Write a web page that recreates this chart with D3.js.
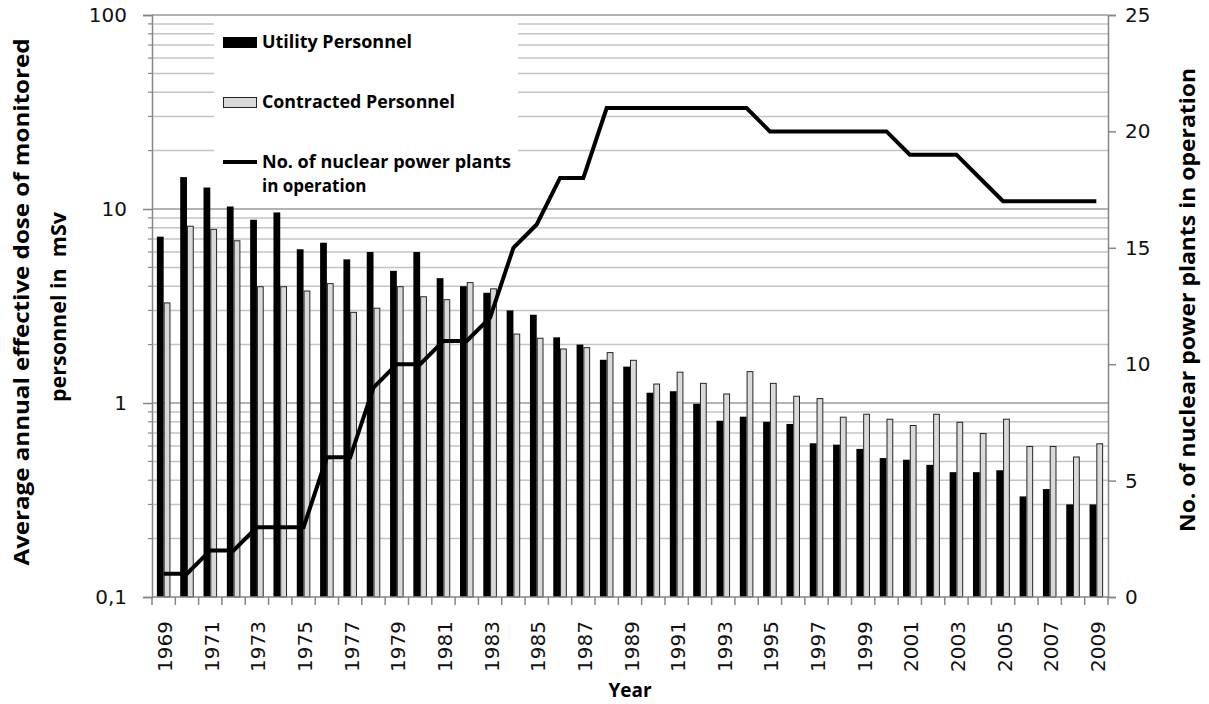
<!DOCTYPE html>
<html><head><meta charset="utf-8">
<script src="https://cdn.jsdelivr.net/npm/d3@7"></script>
<style>
html,body{margin:0;padding:0;background:#fff;}
svg{display:block;}
</style></head>
<body>
<svg id="chart" width="1209" height="704"></svg>
<script>
const years = d3.range(1969, 2010);
const utilityDose = [7.2,14.6,12.9,10.3,8.8,9.6,6.2,6.7,5.5,6.0,4.8,6.0,4.4,4.0,3.7,3.0,2.85,2.18,2.0,1.67,1.54,1.13,1.15,0.99,0.81,0.85,0.80,0.78,0.62,0.61,0.58,0.52,0.51,0.48,0.44,0.44,0.45,0.33,0.36,0.30,0.30];
const contractedDose = [3.3,8.2,7.9,6.9,4.0,4.0,3.8,4.15,2.95,3.1,4.0,3.55,3.43,4.2,3.9,2.28,2.17,1.91,1.94,1.83,1.67,1.26,1.45,1.27,1.12,1.46,1.27,1.09,1.06,0.85,0.88,0.83,0.77,0.88,0.80,0.70,0.83,0.60,0.60,0.53,0.62];
const plants = [1,1,2,2,3,3,3,6,6,9,10,10,11,11,12,15,16,18,18,21,21,21,21,21,21,21,20,20,20,20,20,20,19,19,19,18,17,17,17,17,17];
const leftTicks = [0.1, 1, 10, 100];
const rightTicks = [0, 5, 10, 15, 20, 25];
const seriesNames = ["Utility Personnel", "Contracted Personnel", "No. of nuclear power plants in operation"];

const svg = d3.select("#chart");
const L = 152, R = 1108, T = 15, B = 597;
const axisColor = "#868686";
const tickFont = "'DejaVu Sans', Verdana, sans-serif";
const titleFont = "'Open Sans', Lato, sans-serif";

const x = d3.scaleBand().domain(years).range([L, R]).paddingInner(0).paddingOuter(0);
const xs = d3.scaleBand().domain(["u","c"]).range([0, x.bandwidth()]).paddingInner(0).paddingOuter(0.72);
const yL = d3.scaleLog().domain([0.1, 100]).range([B, T]);
const yR = d3.scaleLinear().domain([0, 25]).range([B, T]);

// gridlines
const gridVals = [];
[0.1, 1, 10].forEach(d => { for (let k = 1; k <= 9; k++) gridVals.push(+(d*k).toPrecision(3)); });
gridVals.push(100);
const gridG = svg.append("g");
gridG.selectAll("line").data(gridVals.filter(v => v > 0.1)).join("line")
  .attr("x1", L).attr("x2", R)
  .attr("y1", d => yL(d)).attr("y2", d => yL(d))
  .attr("stroke", d => (d === 1 || d === 10 || d === 100) ? "#9a9a9a" : "#c4c4c4")
  .attr("stroke-width", 1.5);

// bars
const barG = svg.append("g");
barG.selectAll("rect.u").data(years).join("rect").attr("class","u")
  .attr("x", (d) => x(d) + xs("u"))
  .attr("y", (d,i) => yL(utilityDose[i]))
  .attr("width", xs.bandwidth())
  .attr("height", (d,i) => B - yL(utilityDose[i]))
  .attr("fill", "#000");
barG.selectAll("rect.c").data(years).join("rect").attr("class","c")
  .attr("x", (d) => x(d) + xs("c") + 0.5)
  .attr("y", (d,i) => yL(contractedDose[i]) + 0.5)
  .attr("width", xs.bandwidth() - 1)
  .attr("height", (d,i) => B - yL(contractedDose[i]) - 0.5)
  .attr("fill", "#d9d9d9").attr("stroke", "#262626").attr("stroke-width", 1);

// legend box (white background)
svg.append("rect").attr("x", 214).attr("y", T + 1).attr("width", 304).attr("height", 190).attr("fill", "#fff");

// line
const line = d3.line().x((d,i) => x(years[i]) + x.bandwidth()/2).y(d => yR(d));
svg.append("path").datum(plants).attr("d", line)
  .attr("fill", "none").attr("stroke", "#000").attr("stroke-width", 4).attr("stroke-linejoin", "miter");

// left axis
const minorVals = gridVals.filter(v => !leftTicks.includes(v));
svg.append("g").selectAll("line").data(minorVals).join("line")
  .attr("x1", L - 4).attr("x2", L).attr("y1", d => yL(d)).attr("y2", d => yL(d))
  .attr("stroke", axisColor).attr("stroke-width", 1.2);
const axL = svg.append("g").attr("transform", `translate(${L},0)`)
  .call(d3.axisLeft(yL).tickValues(leftTicks).tickSize(9).tickPadding(16)
    .tickFormat(d => String(d).replace(".", ",")));
axL.select(".domain").attr("stroke", axisColor).attr("stroke-width", 1.5);
axL.selectAll(".tick line").attr("stroke", axisColor).attr("stroke-width", 1.5);
axL.selectAll(".tick text").attr("font-family", tickFont).attr("font-size", 20).attr("fill", "#111");

// right axis
const axR = svg.append("g").attr("transform", `translate(${R},0)`)
  .call(d3.axisRight(yR).tickValues(rightTicks).tickSize(8).tickPadding(9));
axR.select(".domain").attr("stroke", axisColor).attr("stroke-width", 1.5);
axR.selectAll(".tick line").attr("stroke", axisColor).attr("stroke-width", 1.5);
axR.selectAll(".tick text").attr("font-family", tickFont).attr("font-size", 20).attr("fill", "#111");

// bottom axis
svg.append("line").attr("x1", L).attr("x2", R).attr("y1", B).attr("y2", B)
  .attr("stroke", axisColor).attr("stroke-width", 1.5);
const bounds = years.map(d => x(d)).concat([R]);
svg.append("g").selectAll("line").data(bounds).join("line")
  .attr("x1", d => d).attr("x2", d => d).attr("y1", B).attr("y2", B + 8)
  .attr("stroke", axisColor).attr("stroke-width", 1.5);
svg.append("g").selectAll("text").data(years.filter((d,i) => i % 2 === 0)).join("text")
  .attr("transform", d => `translate(${x(d) + x.bandwidth()/2 + 8.5},${B + 24}) rotate(-90)`)
  .attr("text-anchor", "end")
  .attr("font-family", tickFont).attr("font-size", 20).attr("fill", "#111")
  .text(d => d);

// axis titles
svg.append("text").attr("x", 630).attr("y", 697).attr("text-anchor", "middle")
  .attr("font-family", titleFont).attr("font-weight", "bold").attr("font-size", 19).text("Year");
const lt = svg.append("g").attr("font-family", titleFont).attr("font-weight", "bold").attr("font-size", 21);
lt.append("text").attr("transform", "translate(29,302) rotate(-90)").attr("text-anchor", "middle")
  .attr("textLength", 527).attr("lengthAdjust", "spacingAndGlyphs")
  .text("Average annual effective dose of monitored");
lt.append("text").attr("transform", "translate(66,307) rotate(-90)").attr("text-anchor", "middle")
  .attr("textLength", 190).attr("lengthAdjust", "spacingAndGlyphs").attr("xml:space", "preserve")
  .text("personnel in  mSv");
svg.append("text").attr("transform", "translate(1195,300) rotate(-90)")
  .attr("text-anchor", "middle").attr("font-family", titleFont).attr("font-weight", "bold").attr("font-size", 21)
  .attr("textLength", 464).attr("lengthAdjust", "spacingAndGlyphs")
  .text(seriesNames[2]);

// legend
const lg = svg.append("g").attr("font-family", titleFont).attr("font-weight", "bold").attr("font-size", 17);
lg.append("rect").attr("x", 223).attr("y", 37).attr("width", 34).attr("height", 11).attr("fill", "#000");
lg.append("text").attr("x", 262).attr("y", 48).attr("textLength", 150).attr("lengthAdjust", "spacingAndGlyphs").text(seriesNames[0]);
lg.append("rect").attr("x", 223.5).attr("y", 97.5).attr("width", 33).attr("height", 10).attr("fill", "#d9d9d9").attr("stroke", "#262626");
lg.append("text").attr("x", 262).attr("y", 108).attr("textLength", 193).attr("lengthAdjust", "spacingAndGlyphs").text(seriesNames[1]);
lg.append("line").attr("x1", 223).attr("x2", 257).attr("y1", 162).attr("y2", 162).attr("stroke", "#000").attr("stroke-width", 4);
lg.append("text").attr("x", 262).attr("y", 168).attr("textLength", 249).attr("lengthAdjust", "spacingAndGlyphs").text("No. of nuclear power plants");
lg.append("text").attr("x", 262).attr("y", 192).text("in operation");
</script>
</body></html>
